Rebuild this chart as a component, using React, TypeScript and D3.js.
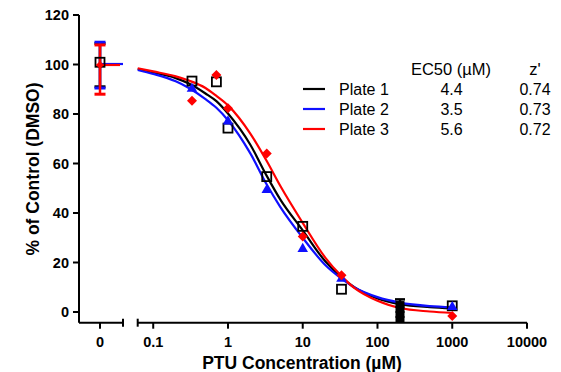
import React, { useEffect, useRef } from "react";
import * as d3 from "d3";

// plates, colours and the legend table
const plateNames = ["Plate 1", "Plate 2", "Plate 3"];
const plateColors = ["#000000", "#1010ff", "#ff0000"];
const ec50Labels = ["4.4", "3.5", "5.6"];
const zLabels = ["0.74", "0.73", "0.72"];

// measured points (µM, % of control)
const plate1Conc = [0.33, 0.7, 1, 3.3, 10, 33, 1000];
const plate1Vals = [93.3, 93, 74.3, 54.7, 34.6, 9.2, 2.5];
const plate2Conc = [0.33, 1, 3.3, 10, 33, 1000];
const plate2Vals = [90.2, 77, 49.3, 25.5, 13.5, 2];
const plate3Conc = [0.33, 0.7, 1, 3.3, 10, 33, 1000];
const plate3Vals = [85.4, 95.8, 82.3, 64, 30.5, 14.8, -1.6];

// 200 µM column (plate 1 replicates) and its error bar
const highConc = 200;
const highVals = [3, 1, -1, -3];
const highErr = [-3.8, 5.1];

// DMSO control (shown at "0")
const controlMeans = [100.9, 100.2, 99.8];
const controlLow = [91, 90.5, 88];
const controlHigh = [108.5, 109, 107.9];

// fitted curves
const curveConc = [0.062, 0.1, 0.2, 0.3, 0.5, 0.7, 1, 2, 3.3, 5, 10, 20, 33, 50, 100, 200, 500, 1000];
const curve1 = [98.2, 96.8, 94.5, 92.3, 88.3, 85.2, 80.2, 67.5, 55, 45.5, 33, 20.5, 14, 9.8, 5.5, 3.2, 2, 1.5];
const curve2 = [97.8, 96.2, 93.2, 90.5, 86, 82.5, 77.5, 64, 51.5, 42.5, 30, 19, 13.5, 9.8, 6, 3.8, 2.4, 1.9];
const curve3 = [98.5, 97.2, 95.2, 93.5, 90.5, 87.3, 83.5, 72, 61, 51, 36, 22, 14.5, 9.5, 4.5, 1.6, 0.2, -0.4];

const yTicks = [0, 20, 40, 60, 80, 100, 120];
const xTicks = [0.1, 1, 10, 100, 1000, 10000];

const App = () => {
  const ref = useRef<SVGSVGElement>(null);

  useEffect(() => {
    const svg = d3.select(ref.current);
    svg.selectAll("*").remove();

    const font = "Arial, 'Liberation Sans', Helvetica, sans-serif";
    const axisY = 322.7;

    const y = d3.scaleLinear().domain([0, 120]).range([312, 15]);
    const x = d3.scaleLog().domain([0.062, 10000]).range([137.7, 527]);
    const xc = d3.scaleLinear().domain([-1, 1]).range([77, 123]);

    // y axis
    const yAxis = svg.append("g").attr("transform", "translate(79,0)");
    yAxis.append("line").attr("y1", y(120)).attr("y2", axisY)
      .attr("stroke", "#000").attr("stroke-width", 2);
    yAxis.selectAll(".yt").data(yTicks).enter().append("line")
      .attr("x1", -6).attr("x2", 0)
      .attr("y1", d => y(d)).attr("y2", d => y(d))
      .attr("stroke", "#000").attr("stroke-width", 2);
    yAxis.selectAll(".yl").data(yTicks).enter().append("text")
      .attr("x", -10).attr("y", d => y(d))
      .attr("dy", "0.35em")
      .attr("text-anchor", "end")
      .style("font-family", font).style("font-weight", "bold").style("font-size", "14.5px")
      .text(d => d);

    // x axis, control segment
    svg.append("line").attr("x1", 79).attr("x2", xc(1)).attr("y1", axisY).attr("y2", axisY)
      .attr("stroke", "#000").attr("stroke-width", 2);
    svg.append("line").attr("x1", xc(1)).attr("x2", xc(1)).attr("y1", axisY - 4).attr("y2", axisY + 4)
      .attr("stroke", "#000").attr("stroke-width", 2);
    svg.append("line").attr("x1", xc(0)).attr("x2", xc(0)).attr("y1", axisY).attr("y2", axisY + 6)
      .attr("stroke", "#000").attr("stroke-width", 2);
    svg.append("text").attr("x", xc(0)).attr("y", 342).attr("dy", "0.35em")
      .attr("text-anchor", "middle")
      .style("font-family", font).style("font-weight", "bold").style("font-size", "14.5px")
      .text("0");

    // x axis, log segment
    const [x0, x1] = x.range();
    svg.append("line").attr("x1", x0).attr("x2", x1).attr("y1", axisY).attr("y2", axisY)
      .attr("stroke", "#000").attr("stroke-width", 2);
    svg.append("line").attr("x1", x0).attr("x2", x0).attr("y1", axisY - 4).attr("y2", axisY + 4)
      .attr("stroke", "#000").attr("stroke-width", 2);
    svg.selectAll(".xt").data(xTicks).enter().append("line")
      .attr("x1", d => x(d)).attr("x2", d => x(d))
      .attr("y1", axisY).attr("y2", axisY + 6)
      .attr("stroke", "#000").attr("stroke-width", 2);
    svg.selectAll(".xl").data(xTicks).enter().append("text")
      .attr("x", d => x(d)).attr("y", 342).attr("dy", "0.35em")
      .attr("text-anchor", "middle")
      .style("font-family", font).style("font-weight", "bold").style("font-size", "14.5px")
      .text(d => String(d));

    // axis titles
    svg.append("text").attr("x", 302).attr("y", 363).attr("dy", "0.35em")
      .attr("text-anchor", "middle")
      .style("font-family", font).style("font-weight", "bold").style("font-size", "17.5px")
      .text("PTU Concentration (µM)");
    svg.append("text")
      .attr("transform", "translate(33,169) rotate(-90)")
      .attr("dy", "0.35em")
      .attr("text-anchor", "middle")
      .style("font-family", font).style("font-weight", "bold").style("font-size", "17.5px")
      .text("% of Control (DMSO)");

    // fitted curves
    const curves = [curve1, curve2, curve3];
    const line = d3.line<[number, number]>()
      .x(d => x(d[0])).y(d => y(d[1]))
      .curve(d3.curveMonotoneX);
    curves.forEach((c, i) => {
      svg.append("path")
        .datum(curveConc.map((cc, j) => [cc, c[j]] as [number, number]))
        .attr("d", line)
        .attr("fill", "none")
        .attr("stroke", plateColors[i])
        .attr("stroke-width", 2.2);
    });

    // marker helpers
    const square = (g: any, cx: number, cy: number) =>
      g.append("rect").attr("x", cx - 4.5).attr("y", cy - 4.5).attr("width", 9).attr("height", 9)
        .attr("fill", "none").attr("stroke", "#000").attr("stroke-width", 1.8);
    const triangle = d3.symbol().type(d3.symbolTriangle).size(48);
    // diamond = square turned 45°
    const diamond = (g: any, cx: number, cy: number, size: number) =>
      g.append("path").attr("d", d3.symbol().type(d3.symbolSquare).size(size)())
        .attr("transform", `translate(${cx},${cy}) rotate(45)`)
        .attr("fill", plateColors[2]);

    // control error bars and means
    controlMeans.forEach((m, i) => {
      const cx = xc(0);
      const col = plateColors[i];
      svg.append("line").attr("x1", cx).attr("x2", cx).attr("y1", y(controlLow[i])).attr("y2", y(controlHigh[i]))
        .attr("stroke", col).attr("stroke-width", 2.5);
      [controlLow[i], controlHigh[i]].forEach(v => {
        svg.append("line").attr("x1", cx - 5.5).attr("x2", cx + 5.5).attr("y1", y(v)).attr("y2", y(v))
          .attr("stroke", col).attr("stroke-width", 3);
      });
    });
    svg.append("line").attr("x1", xc(0)).attr("x2", xc(1)).attr("y1", y(controlMeans[1])).attr("y2", y(controlMeans[1]))
      .attr("stroke", plateColors[1]).attr("stroke-width", 2.2);
    svg.append("line").attr("x1", xc(-0.15)).attr("x2", xc(0.87)).attr("y1", y(controlMeans[2])).attr("y2", y(controlMeans[2]))
      .attr("stroke", plateColors[2]).attr("stroke-width", 2.2);
    square(svg, xc(0), y(controlMeans[0]));
    diamond(svg, xc(0), y(controlMeans[2]), 32);

    // 200 µM column
    svg.append("line").attr("x1", x(highConc)).attr("x2", x(highConc))
      .attr("y1", y(highErr[0])).attr("y2", y(highErr[1]))
      .attr("stroke", "#000").attr("stroke-width", 2.5);
    svg.append("line").attr("x1", x(highConc) - 5).attr("x2", x(highConc) + 5)
      .attr("y1", y(highErr[1])).attr("y2", y(highErr[1]))
      .attr("stroke", "#000").attr("stroke-width", 2.5);
    highVals.forEach(v => {
      svg.append("rect").attr("x", x(highConc) - 4.5).attr("y", y(v) - 3.5)
        .attr("width", 9).attr("height", 7).attr("fill", "#000");
    });

    // measured points
    plate1Conc.forEach((c, i) => square(svg, x(c), y(plate1Vals[i])));
    plate2Conc.forEach((c, i) => {
      svg.append("path").attr("d", triangle())
        .attr("transform", `translate(${x(c)},${y(plate2Vals[i])})`)
        .attr("fill", plateColors[1]);
    });
    plate3Conc.forEach((c, i) => diamond(svg, x(c), y(plate3Vals[i]), 50));

    // legend table
    const legY = [89, 109, 129];
    svg.append("text").attr("x", 451).attr("y", 69).attr("dy", "0.35em").attr("text-anchor", "middle")
      .style("font-family", font).style("font-size", "16.5px").text("EC50 (µM)");
    svg.append("text").attr("x", 535).attr("y", 69).attr("dy", "0.35em").attr("text-anchor", "middle")
      .style("font-family", font).style("font-size", "16.5px").text("z'");
    plateNames.forEach((name, i) => {
      svg.append("line").attr("x1", 303).attr("x2", 325).attr("y1", legY[i]).attr("y2", legY[i])
        .attr("stroke", plateColors[i]).attr("stroke-width", 2.2);
      svg.append("text").attr("x", 339).attr("y", legY[i]).attr("dy", "0.35em")
        .style("font-family", font).style("font-size", "16px").text(name);
      svg.append("text").attr("x", 451.5).attr("y", legY[i]).attr("dy", "0.35em").attr("text-anchor", "middle")
        .style("font-family", font).style("font-size", "16px").text(ec50Labels[i]);
      svg.append("text").attr("x", 535).attr("y", legY[i]).attr("dy", "0.35em").attr("text-anchor", "middle")
        .style("font-family", font).style("font-size", "16px").text(zLabels[i]);
    });
  }, []);

  return (
    <svg ref={ref} width={561} height={372}
      style={{ position: "absolute", left: 0, top: 0, background: "#fff" }} />
  );
};

export default App;
